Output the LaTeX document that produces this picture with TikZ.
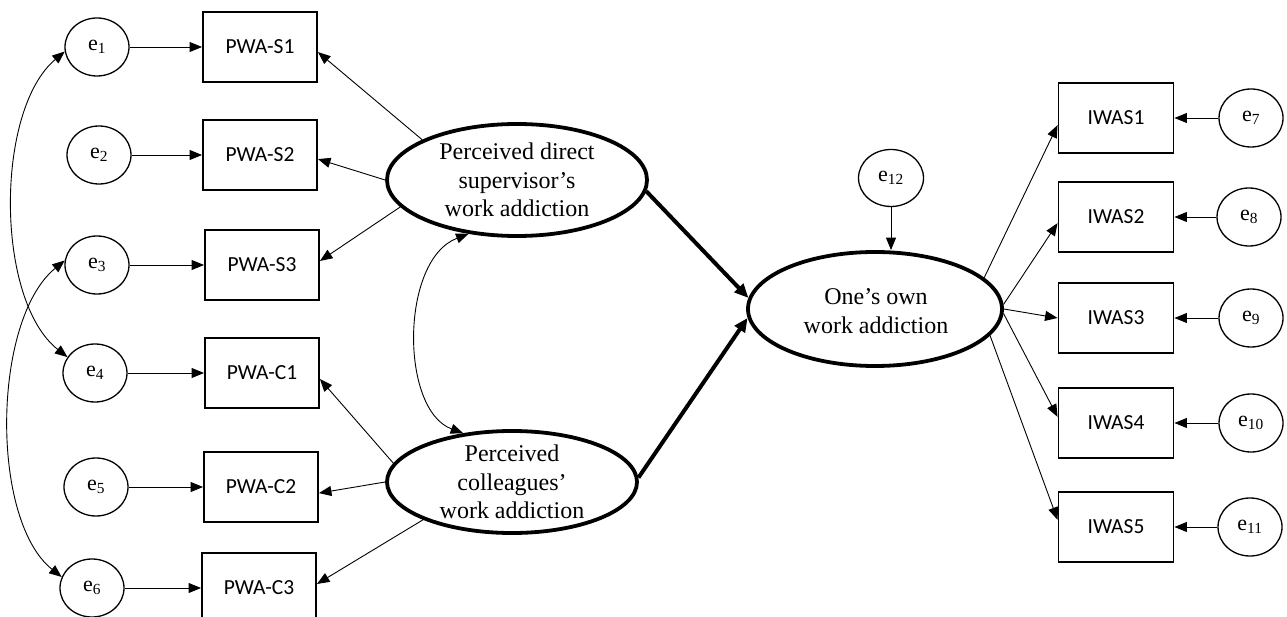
\documentclass[tikz,border=0pt]{standalone}
\usepackage{fontspec}
\setmainfont{Liberation Serif}
\newfontfamily\boxfont{Carlito}
\usetikzlibrary{arrows.meta,shapes.geometric}
\begin{document}
\begin{tikzpicture}[x=1pt,y=-1pt,
  err/.style={draw, ellipse, line width=1.3pt, minimum width=64pt, minimum height=58pt, inner sep=0pt, font=\fontsize{22}{24}\selectfont},
  obs/.style={draw, rectangle, line width=1.9pt, minimum width=114pt, minimum height=70pt, inner sep=0pt, font=\boxfont\fontsize{21.5}{24}\selectfont},
  lat/.style={draw, ellipse, line width=3.8pt, inner sep=0pt},
  lattext/.style={align=center, inner sep=0pt, font=\fontsize{24}{28.5}\selectfont},
  arr/.style={-{Triangle[length=12.5pt,width=10pt]}, line width=0.9pt},
  bigarr/.style={-{Triangle[length=14pt,width=12pt]}, line width=4pt},
  cov/.style={{Triangle[length=12.5pt,width=10pt]}-{Triangle[length=12.5pt,width=10pt]}, line width=0.9pt}]
\useasboundingbox (0,0) rectangle (1287,617);

% left error terms
\node[err] (e1) at (97,47) {e\textsubscript{1}};
\node[err] (e2) at (99,155) {e\textsubscript{2}};
\node[err] (e3) at (97,265) {e\textsubscript{3}};
\node[err] (e4) at (95,373) {e\textsubscript{4}};
\node[err] (e5) at (96,487) {e\textsubscript{5}};
\node[err] (e6) at (92,588) {e\textsubscript{6}};

% left indicators
\node[obs] (s1) at (260,47) {PWA-S1};
\node[obs] (s2) at (260,155) {PWA-S2};
\node[obs] (s3) at (262,265) {PWA-S3};
\node[obs] (c1) at (262,373) {PWA-C1};
\node[obs] (c2) at (261,487) {PWA-C2};
\node[obs] (c3) at (259,588) {PWA-C3};

% latent variables
\node[lat, minimum width=260pt, minimum height=112pt] (sup) at (517,180) {};
\node[lattext] (supT) at (sup) {Perceived direct\\supervisor’s\\work addiction};
\node[lat, minimum width=250pt, minimum height=102pt] (coll) at (512,482) {};
\node[lattext] (collT) at (coll) {Perceived\\colleagues’\\work addiction};
\node[lat, minimum width=254pt, minimum height=114pt] (own) at (875,309) {};
\node[lattext] (ownT) at (876,311) {One’s own\\work addiction};
\node[err, minimum width=65pt, minimum height=57pt] (e12) at (891,178) {e\textsubscript{12}};

% right indicators
\node[obs, minimum width=115pt] (i1) at (1116,118) {IWAS1};
\node[obs, minimum width=115pt] (i2) at (1116,217) {IWAS2};
\node[obs, minimum width=115pt] (i3) at (1116,318) {IWAS3};
\node[obs, minimum width=115pt] (i4) at (1116,423) {IWAS4};
\node[obs, minimum width=115pt] (i5) at (1116,527) {IWAS5};

% right error terms
\node[err] (e7) at (1251,118) {e\textsubscript{7}};
\node[err] (e8) at (1249,217) {e\textsubscript{8}};
\node[err] (e9) at (1251,318) {e\textsubscript{9}};
\node[err] (e10) at (1251,423) {e\textsubscript{10}};
\node[err] (e11) at (1250,527) {e\textsubscript{11}};

% error -> indicator
\draw[arr] (e1) -- (s1);
\draw[arr] (e2) -- (s2);
\draw[arr] (e3) -- (s3);
\draw[arr] (e4) -- (c1);
\draw[arr] (e5) -- (c2);
\draw[arr] (e6) -- (c3);
\draw[arr] (e7) -- (i1);
\draw[arr] (e8) -- (i2);
\draw[arr] (e9) -- (i3);
\draw[arr] (e10) -- (i4);
\draw[arr] (e11) -- (i5);

% loadings
\draw[arr] (sup.157) -- (s1.355);
\draw[arr] (sup.180) -- (s2.356);
\draw[arr] (sup.193) -- (s3.4);
\draw[arr] (coll.171) -- (c1.354);
\draw[arr] (coll.180) -- (c2.354);
\draw[arr] (coll.203) -- (c3.4);
\draw[arr] (own.16) -- (i1.187);
\draw[arr] (own.2) -- (i2.186);
\draw[arr] (own.0) -- (i3.180);
\draw[arr] (own.358) -- (i4.174);
\draw[arr] (own.347) -- (i5.173);

% structural paths
\draw[bigarr] (sup.355) -- (own.175);
\draw[bigarr] (coll.2) -- (own.184);
\draw[arr] (e12) -- (e12 |- own.north);

% covariances
\draw[cov] (e1.188) .. controls (-5,110) and (-5,300) .. (e4.150);
\draw[cov] (e3.172) .. controls (-8,320) and (-10,520) .. (e6.160);
\draw[cov] (sup.228) .. controls (400,260) and (400,410) .. (coll.135);
\end{tikzpicture}
\end{document}
